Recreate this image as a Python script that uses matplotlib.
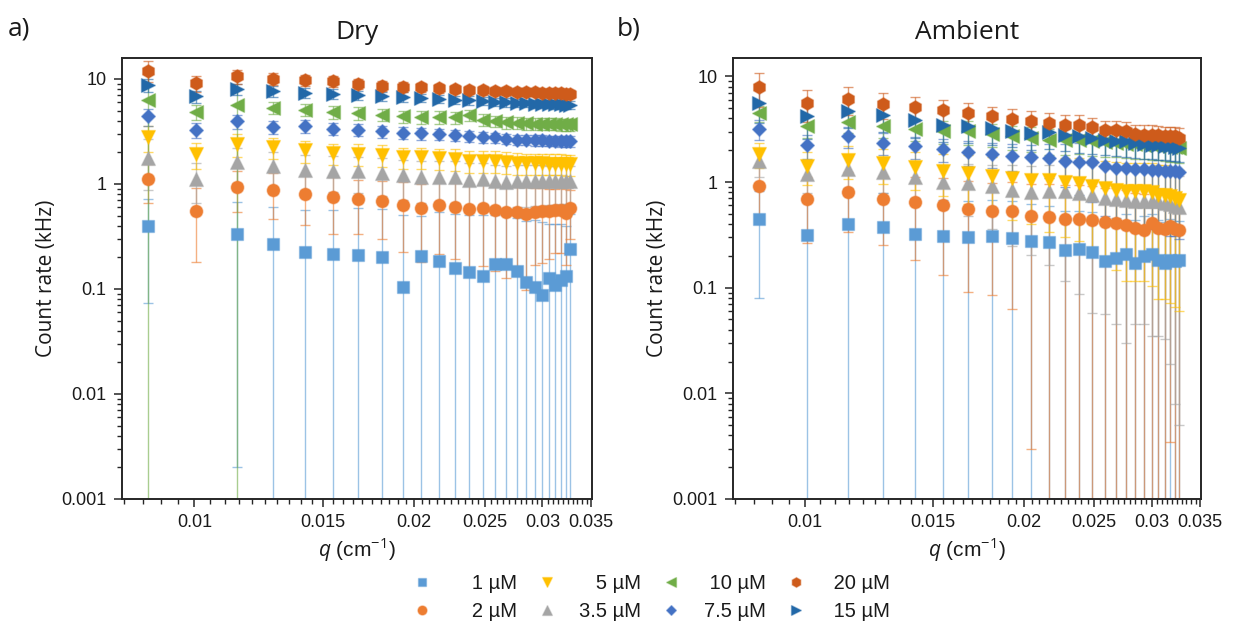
import numpy as np
import matplotlib
matplotlib.use("Agg")
import matplotlib.pyplot as plt
from matplotlib import ticker
from matplotlib.colors import to_rgba

plt.rcParams['font.family'] = ['Liberation Sans', 'DejaVu Sans']
plt.rcParams['mathtext.fontset'] = 'custom'
plt.rcParams['mathtext.rm'] = 'Open Sans'
plt.rcParams['mathtext.it'] = 'Open Sans:italic'

# ---------------- data ----------------
q = [0.00864, 0.01005, 0.01145, 0.01281, 0.01418, 0.01550, 0.01678, 0.01807,
     0.01930, 0.02048, 0.02166, 0.02276, 0.02382, 0.02485, 0.02584, 0.02677,
     0.02765, 0.02848, 0.02927, 0.02999, 0.03064, 0.03125, 0.03178, 0.03230, 0.03272]

labels = ["1 µM", "2 µM", "3.5 µM", "5 µM", "7.5 µM", "10 µM", "15 µM", "20 µM"]
colors = ["#5B9BD5", "#ED7D31", "#A5A5A5", "#FFC000", "#4472C4", "#70AD47", "#2268A8", "#CE5B1B"]
markers = ["s", "o", "^", "v", "D", "<", ">", "h"]
msizes = [8.4, 9.2, 10.0, 10.0, 7.2, 10.0, 10.0, 9.8]

nan = float('nan')

# Dry
dry_1 = [0.395, nan, 0.336, 0.270, 0.225, 0.215, 0.212, 0.202, 0.1045, 0.208, 0.183, 0.158, 0.144,
         0.134, 0.174, 0.174, 0.147, 0.116, 0.1035, 0.088, 0.127, 0.110, 0.123, 0.132, 0.240]
dry_1_err = [0.321, nan, 0.334, 0.33, 0.335, 0.345, 0.378, 0.376, 0.40, 0.29, 0.354, 0.36, 0.36,
             0.37, 0.33, 0.33, 0.33, 0.33, 0.35, 0.35, 0.29, 0.31, 0.29, 0.27, 0.28]
dry_2 = [1.116, 0.551, 0.928, 0.869, 0.808, 0.745, 0.717, 0.689, 0.635, 0.591, 0.624, 0.604, 0.578,
         0.595, 0.569, 0.537, 0.537, 0.518, 0.541, 0.548, 0.548, 0.561, 0.569, 0.529, 0.591]
dry_2_err = [0.45, 0.37, 0.39, 0.41, 0.40, 0.41, 0.38, 0.39, 0.41, 0.41, 0.41, 0.41, 0.42,
             0.43, 0.42, 0.41, 0.40, 0.42, 0.37, 0.37, 0.355, 0.34, 0.35, 0.36, 0.29]
dry_35 = [1.77, 1.12, 1.62, 1.47, 1.37, 1.34, 1.32, 1.26, 1.21, 1.16, 1.16, 1.16, 1.10,
          1.12, 1.07, 1.04, 1.06, 1.06, 1.06, 1.06, 1.06, 1.06, 1.07, 1.07, 1.07]
dry_35_err = [0.9, 0.46, 0.6, 0.55, 0.5, 0.5, 0.5, 0.5, 0.5, 0.5, 0.5, 0.5, 0.48,
              0.48, 0.45, 0.45, 0.45, 0.45, 0.44, 0.44, 0.43, 0.43, 0.43, 0.42, 0.42]
dry_5 = [2.78, 1.93, 2.40, 2.23, 2.09, 1.97, 1.94, 1.90, 1.79, 1.79, 1.77, 1.74, 1.67,
         1.67, 1.67, 1.62, 1.60, 1.58, 1.57, 1.57, 1.56, 1.56, 1.56, 1.55, 1.55]
dry_5_err = [0.75, 0.55, 0.6, 0.5, 0.5, 0.45, 0.45, 0.45, 0.4, 0.4, 0.4, 0.4, 0.4,
             0.4, 0.4, 0.38, 0.38, 0.36, 0.36, 0.36, 0.35, 0.35, 0.35, 0.35, 0.35]
dry_75 = [4.40, 3.27, 3.95, 3.46, 3.54, 3.36, 3.29, 3.17, 3.06, 3.03, 2.99, 2.90, 2.84,
          2.78, 2.78, 2.70, 2.64, 2.64, 2.62, 2.60, 2.58, 2.58, 2.56, 2.56, 2.56]
dry_75_err = [0.8, 0.5, 0.6, 0.5, 0.5, 0.45, 0.45, 0.4, 0.4, 0.4, 0.35, 0.35, 0.35,
              0.35, 0.3, 0.3, 0.3, 0.3, 0.3, 0.3, 0.3, 0.3, 0.3, 0.3, 0.3]
dry_10 = [6.35, 4.85, 5.69, 5.29, 5.10, 4.85, 4.75, 4.57, 4.40, 4.31, 4.31, 4.31, 4.50,
          4.10, 3.95, 3.86, 3.81, 3.78, 3.75, 3.73, 3.73, 3.73, 3.70, 3.70, 3.70]
dry_10_err = [6.5, 0.8, 5.8, 0.7, 0.7, 0.65, 0.65, 0.6, 0.6, 0.6, 0.6, 0.55, 0.55,
              0.55, 0.5, 0.5, 0.5, 0.5, 0.5, 0.5, 0.5, 0.5, 0.5, 0.5, 0.5]
dry_15 = [8.69, 6.83, 8.03, 7.62, 7.36, 7.20, 6.98, 6.83, 6.74, 6.59, 6.49, 6.35, 6.25,
          6.17, 6.08, 5.99, 5.95, 5.86, 5.82, 5.78, 5.78, 5.73, 5.73, 5.69, 5.69]
dry_15_err = [1.2, 0.9, 1.0, 0.9, 0.8, 0.8, 0.7, 0.7, 0.7, 0.6, 0.6, 0.6, 0.6,
              0.55, 0.55, 0.55, 0.5, 0.5, 0.5, 0.5, 0.5, 0.5, 0.5, 0.5, 0.5]
dry_20 = [12.0, 9.16, 10.6, 10.07, 9.70, 9.49, 9.02, 8.64, 8.39, 8.32, 8.21, 8.03, 7.91,
          7.79, 7.74, 7.69, 7.57, 7.52, 7.45, 7.41, 7.35, 7.35, 7.29, 7.24, 7.24]
dry_20_err = [2.7, 1.6, 1.6, 1.3, 1.2, 1.1, 1.0, 0.9, 0.9, 0.8, 0.8, 0.7, 0.7,
              0.7, 0.65, 0.65, 0.6, 0.6, 0.6, 0.6, 0.6, 0.6, 0.6, 0.6, 0.6]

# Ambient
amb_1 = [0.447, 0.313, 0.401, 0.375, 0.324, 0.310, 0.302, 0.306, 0.295, 0.274, 0.268, 0.229, 0.232,
         0.220, 0.177, 0.191, 0.210, 0.173, 0.201, 0.210, 0.181, 0.171, 0.184, 0.177, 0.181]
amb_1_err = [0.367, 0.36, 0.45, 0.42, 0.38, 0.37, 0.36, 0.37, 0.36, 0.34, 0.33, 0.30, 0.30,
             0.30, 0.26, 0.27, 0.29, 0.26, 0.28, 0.29, 0.26, 0.25, 0.26, 0.25, 0.25]
amb_2 = [0.923, 0.690, 0.797, 0.695, 0.647, 0.610, 0.559, 0.535, 0.527, 0.480, 0.467, 0.450, 0.447,
         0.440, 0.415, 0.409, 0.394, 0.367, 0.354, 0.409, 0.367, 0.362, 0.380, 0.362, 0.354]
amb_2_err = [0.5, 0.425, 0.46, 0.44, 0.466, 0.477, 0.468, 0.45, 0.464, 0.477, 0.50, 0.48, 0.49,
             0.48, 0.46, 0.46, 0.45, 0.42, 0.41, 0.45, 0.42, 0.41, 0.3765, 0.40, 0.40]
amb_35 = [1.57, 1.19, 1.33, 1.24, 1.11, 1.01, 0.978, 0.909, 0.846, 0.804, 0.815, 0.815, 0.787,
          0.758, 0.706, 0.695, 0.680, 0.665, 0.665, 0.655, 0.655, 0.633, 0.619, 0.588, 0.575]
amb_35_err = [0.45, 0.4, 0.45, 0.45, 0.45, 0.45, 0.5, 0.55, 0.6, 0.6, 0.65, 0.7, 0.7,
              0.7, 0.65, 0.65, 0.65, 0.62, 0.62, 0.62, 0.62, 0.6, 0.6, 0.58, 0.57]
amb_5 = [1.85, 1.43, 1.63, 1.51, 1.39, 1.28, 1.22, 1.13, 1.09, 1.05, 1.04, 1.00, 0.978,
         0.909, 0.877, 0.846, 0.815, 0.815, 0.815, 0.804, 0.758, 0.758, 0.731, 0.706, 0.680]
amb_5_err = [0.5, 0.5, 0.55, 0.55, 0.55, 0.55, 0.6, 0.6, 0.65, 0.65, 0.7, 0.7, 0.7,
             0.7, 0.7, 0.7, 0.7, 0.7, 0.7, 0.7, 0.68, 0.68, 0.66, 0.64, 0.62]
amb_75 = [3.19, 2.22, 2.70, 2.34, 2.17, 2.05, 1.92, 1.85, 1.77, 1.71, 1.69, 1.59, 1.55,
          1.55, 1.43, 1.37, 1.36, 1.34, 1.33, 1.31, 1.29, 1.28, 1.26, 1.26, 1.24]
amb_75_err = [0.7, 0.55, 0.6, 0.55, 0.5, 0.5, 0.5, 0.5, 0.5, 0.55, 0.6, 0.7, 0.8,
              0.9, 0.95, 0.95, 0.95, 0.95, 0.95, 0.95, 0.95, 0.95, 0.95, 0.95, 0.95]
amb_10 = [4.50, 3.41, 3.74, 3.41, 3.19, 3.06, 3.01, 2.85, 2.70, 2.61, 2.51, 2.51, 2.51,
          2.42, 2.39, 2.34, 2.30, 2.27, 2.24, 2.22, 2.20, 2.18, 2.16, 2.14, 2.12]
amb_10_err = [0.8, 0.8, 0.8, 0.8, 0.75, 0.75, 0.75, 0.7, 0.7, 0.7, 0.7, 0.7, 0.65,
              0.65, 0.65, 0.6, 0.6, 0.6, 0.6, 0.6, 0.6, 0.6, 0.6, 0.6, 0.6]
amb_15 = [5.59, 4.18, 4.73, 4.27, 3.83, 3.48, 3.36, 3.24, 3.06, 2.91, 2.97, 2.76, 2.70,
          2.61, 2.51, 2.46, 2.42, 2.34, 2.29, 2.25, 2.22, 2.21, 2.17, 2.13, 2.10]
amb_15_err = [2.0, 1.6, 1.5, 1.3, 1.2, 1.1, 1.0, 1.0, 0.9, 0.9, 0.9, 0.8, 0.8,
              0.75, 0.7, 0.7, 0.7, 0.65, 0.65, 0.6, 0.6, 0.6, 0.6, 0.55, 0.55]
amb_20 = [7.92, 5.59, 6.10, 5.47, 5.08, 4.76, 4.50, 4.18, 3.97, 3.80, 3.66, 3.48, 3.48,
          3.31, 3.12, 3.12, 3.01, 2.85, 2.80, 2.80, 2.76, 2.74, 2.74, 2.70, 2.64]
amb_20_err = [2.8, 1.9, 1.76, 1.48, 1.3, 1.2, 1.1, 1.0, 0.95, 0.9, 0.85, 0.8, 0.8,
              0.75, 0.7, 0.7, 0.7, 0.65, 0.65, 0.65, 0.6, 0.6, 0.6, 0.6, 0.6]

dry = [(dry_1, dry_1_err), (dry_2, dry_2_err), (dry_35, dry_35_err), (dry_5, dry_5_err),
       (dry_75, dry_75_err), (dry_10, dry_10_err), (dry_15, dry_15_err), (dry_20, dry_20_err)]
amb = [(amb_1, amb_1_err), (amb_2, amb_2_err), (amb_35, amb_35_err), (amb_5, amb_5_err),
       (amb_75, amb_75_err), (amb_10, amb_10_err), (amb_15, amb_15_err), (amb_20, amb_20_err)]

x_ticks = [0.01, 0.015, 0.02, 0.025, 0.03, 0.035]
y_ticks = [0.001, 0.01, 0.1, 1, 10]

# ---------------- figure ----------------
fig = plt.figure(figsize=(12.33, 6.35), dpi=100)
ax1 = fig.add_axes([0.0987, 0.2142, 0.3815, 0.6943])
ax2 = fig.add_axes([0.5942, 0.2142, 0.3800, 0.6943])

TITLE_FONT = ['Open Sans', 'DejaVu Sans']

def draw(ax, series, ymax, title):
    handles = []
    for (vals, errs), c, m, ms, lab in zip(series, colors, markers, msizes, labels):
        ax.errorbar(q, vals, yerr=errs, fmt='none', ecolor=to_rgba(c, 0.6),
                    elinewidth=1.0, capsize=3.8, capthick=1.0, zorder=2)
    for (vals, errs), c, m, ms, lab in zip(series, colors, markers, msizes, labels):
        h, = ax.plot(q, vals, linestyle='none', marker=m, markersize=ms, color=c,
                     markeredgecolor=to_rgba(c, 0.4), markeredgewidth=1.0, zorder=3, label=lab)
        handles.append(h)
    ax.set_xscale('log')
    ax.set_yscale('log')
    ax.set_xlim(0.00795, 0.0351)
    ax.set_ylim(0.001, ymax)
    ax.xaxis.set_major_locator(ticker.FixedLocator(x_ticks))
    ax.xaxis.set_major_formatter(ticker.FuncFormatter(lambda v, p: f'{v:g}'))
    ax.xaxis.set_minor_locator(ticker.MultipleLocator(0.0005))
    ax.xaxis.set_minor_formatter(ticker.NullFormatter())
    ax.yaxis.set_major_locator(ticker.FixedLocator(y_ticks))
    ax.yaxis.set_major_formatter(ticker.FuncFormatter(lambda v, p: f'{v:g}'))
    ax.yaxis.set_minor_locator(ticker.LogLocator(base=10, subs=np.arange(2, 10)))
    ax.yaxis.set_minor_formatter(ticker.NullFormatter())
    ax.tick_params(which='major', direction='out', length=6, width=1.1, labelsize=13,
                   color='#262626', labelcolor='#1a1a1a', pad=5)
    ax.tick_params(which='minor', direction='out', length=3.5, width=1.0, color='#262626')
    for s in ax.spines.values():
        s.set_linewidth(1.4)
        s.set_color('#262626')
    ax.set_ylabel('Count rate (kHz)', fontsize=15, family=TITLE_FONT, labelpad=3, color='#1a1a1a')
    ax.set_xlabel('$q$ (cm$^{-1}$)', fontsize=15, labelpad=3, color='#1a1a1a')
    ax.set_title(title, fontsize=19, family=TITLE_FONT, pad=14, color='#1a1a1a')
    return handles

handles = draw(ax1, dry, 15.8, 'Dry')
draw(ax2, amb, 14.9, 'Ambient')

fig.text(0.006, 0.955, 'a)', fontsize=19, family=TITLE_FONT, va='center', color='#1a1a1a')
fig.text(0.500, 0.955, 'b)', fontsize=19, family=TITLE_FONT, va='center', color='#1a1a1a')

# legend: column-wise order, labels padded to look right-aligned
order = [0, 1, 3, 2, 5, 4, 7, 6]
pad = {"1 µM": "\u2007\u2008", "2 µM": "\u2007\u2008", "5 µM": "\u2007\u2008",
       "3.5 µM": "", "10 µM": "\u2008", "7.5 µM": "", "20 µM": "\u2008", "15 µM": "\u2008"}
leg_handles = [handles[i] for i in order]
leg_labels = [pad[labels[i]] + labels[i] for i in order]
leg = fig.legend(leg_handles, leg_labels, ncol=4, loc='center', bbox_to_anchor=(0.528, 0.059),
                 frameon=False, fontsize=14.5, markerscale=0.72, handlelength=1.0,
                 handletextpad=1.1, columnspacing=1.0, labelspacing=0.45)
for t in leg.get_texts():
    t.set_color('#1a1a1a')

fig.savefig('out.png', dpi=100)
